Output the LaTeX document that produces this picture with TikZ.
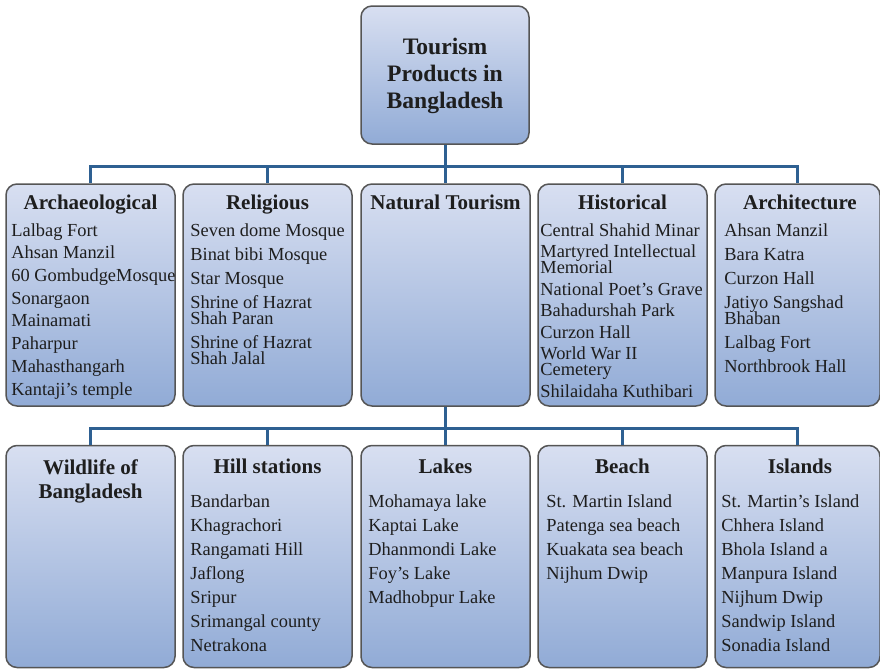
\documentclass[tikz,border=0pt]{standalone}
\usepackage{fontspec}
\setmainfont{Liberation Serif}
\usepackage{tikz}
\definecolor{boxtop}{RGB}{216,223,241}
\definecolor{boxbot}{RGB}{145,171,214}
\definecolor{boxline}{RGB}{85,85,85}
\definecolor{linkblue}{RGB}{46,96,146}
\definecolor{txt}{RGB}{30,30,30}
\tikzset{
  box_base/.style = {rectangle, rounded corners=5.5pt, draw=boxline,
    line width=0.75pt, top color=boxtop, bottom color=boxbot, inner sep=0pt},
  root_box/.style = {box_base, minimum width=84pt, minimum height=69pt},% racine
  cat_box/.style = {box_base, minimum width=84.5pt, minimum height=111pt},% categorie
  cat_head/.style = {inner sep=0pt, align=center, anchor=north, text=txt,
    font=\fontsize{10.5}{12}\selectfont\bfseries},
  cat_list/.style = {inner sep=0pt, align=left, anchor=north west, text=txt,
    font=\fontsize{9.2}{12}\selectfont},
  bus/.style = {draw=linkblue, line width=1.5pt}
}

\begin{document}
\begin{tikzpicture}[x=0.5pt,y=-0.5pt]
\useasboundingbox (0,0) rectangle (880,669);

% boxes
\node [root_box] (top) at (445,75) {};
\node [cat_box] (arch) at (90.5,295) {};
\node [cat_box] (rel) at (267.5,295) {};
\node [cat_box] (nat) at (445.5,295) {};
\node [cat_box] (hist) at (622.5,295) {};
\node [cat_box, minimum width=82.5pt] (archi) at (797.5,295) {};
\node [cat_box] (wild) at (90.5,556.5) {};
\node [cat_box] (hill) at (267.5,556.5) {};
\node [cat_box] (lake) at (445.5,556.5) {};
\node [cat_box] (beach) at (622.5,556.5) {};
\node [cat_box, minimum width=82.5pt] (isl) at (797.5,556.5) {};

% connectors
\foreach \c in {arch,rel,nat,hist,archi}
  \draw [bus] (top.south) -- ++(0,22) -| (\c.north);
\foreach \c in {wild,hill,lake,beach,isl}
  \draw [bus] (nat.south) -- ++(0,22) -| (\c.north);

% texts
\node [cat_head, font=\fontsize{11.8}{13.5}\selectfont\bfseries] (topT) at (445,38)
  {Tourism\\Products in\\Bangladesh};

\node [cat_head] (archT) at (90.5,195) {Archaeological};
\node [cat_head] (relT) at (267.5,195) {Religious};
\node [cat_head] (natT) at (445.5,195) {Natural Tourism};
\node [cat_head] (histT) at (622.5,195) {Historical};
\node [cat_head] (archiT) at (800,195) {Architecture};

\node [cat_list, font=\fontsize{9.2}{11.35}\selectfont] (archL) at (11,223)
  {Lalbag Fort\\ Ahsan Manzil\\ 60 GombudgeMosque\\ Sonargaon\\ Mainamati\\
  Paharpur\\ Mahasthangarh\\ Kantaji’s temple};
\node [cat_list] (relL) at (190,223) {Seven dome Mosque\\ Binat bibi Mosque\\
  Star Mosque\\ Shrine of Hazrat\\[-4pt]Shah Paran\\ Shrine of Hazrat\\[-4pt]Shah Jalal};
\node [cat_list, font=\fontsize{9.2}{10.75}\selectfont] (histL) at (540,223)
  {Central Shahid Minar\\ Martyred Intellectual\\[-2.75pt]Memorial\\
  National Poet’s Grave\\ Bahadurshah Park\\ Curzon Hall\\
  World War II\\[-2.75pt]Cemetery\\ Shilaidaha Kuthibari};
\node [cat_list] (archiL) at (724,223) {Ahsan Manzil\\ Bara Katra\\ Curzon Hall\\
  Jatiyo Sangshad\\[-4pt]Bhaban\\ Lalbag Fort\\ Northbrook Hall};

\node [cat_head] (wildT) at (90.5,459) {Wildlife of\\Bangladesh};
\node [cat_head] (hillT) at (267.5,459) {Hill stations};
\node [cat_head] (lakeT) at (445.5,459) {Lakes};
\node [cat_head] (beachT) at (622.5,459) {Beach};
\node [cat_head] (islT) at (800,459) {Islands};

\node [cat_list] (hillL) at (190,494) {Bandarban\\ Khagrachori\\ Rangamati Hill\\
  Jaflong\\ Sripur\\ Srimangal county\\ Netrakona};
\node [cat_list] (lakeL) at (368,494) {Mohamaya lake\\ Kaptai Lake\\ Dhanmondi Lake\\
  Foy’s Lake\\ Madhobpur Lake};
\node [cat_list] (beachL) at (546,494) {St. Martin Island\\ Patenga sea beach\\
  Kuakata sea beach\\ Nijhum Dwip};
\node [cat_list] (islL) at (721,494) {St. Martin’s Island\\ Chhera Island\\
  Bhola Island a\\ Manpura Island\\ Nijhum Dwip\\ Sandwip Island\\ Sonadia Island};
\end{tikzpicture}
\end{document}
